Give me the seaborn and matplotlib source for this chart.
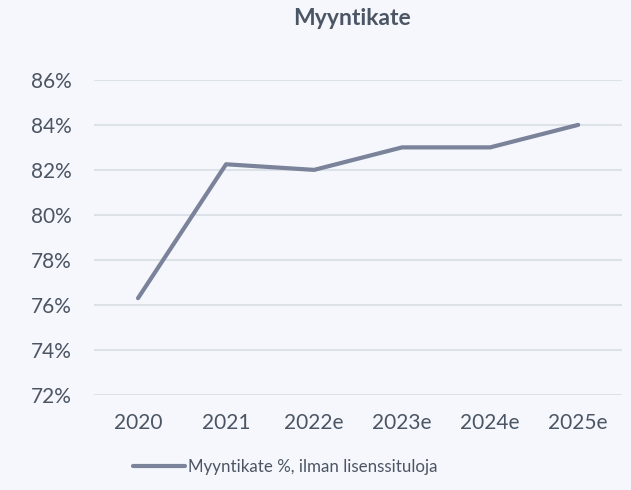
import matplotlib
matplotlib.use("Agg")
import matplotlib.pyplot as plt
import seaborn as sns
import pandas as pd
from matplotlib.ticker import FuncFormatter

# Data
years = ["2020", "2021", "2022e", "2023e", "2024e", "2025e"]
margin = [76.3, 82.25, 82.0, 83.0, 83.0, 84.0]
series_name = "Myyntikate %, ilman lisenssituloja"

df = pd.DataFrame({"year": years, "value": margin})

bg = "#f5f7fc"
text_color = "#4b5563"
line_color = "#7a8399"
grid_color = "#dde2e8"

sns.set_theme(style="white")
plt.rcParams["font.family"] = ["Lato", "DejaVu Sans"]

fig = plt.figure(figsize=(6.31, 4.90), dpi=100, facecolor=bg)
ax = fig.add_axes([0.149, 0.194, 0.837, 0.643])
ax.set_facecolor(bg)

sns.lineplot(data=df, x="year", y="value", ax=ax, color=line_color,
             linewidth=3, label=series_name, sort=False)

ax.set_ylim(72, 86)
ax.set_xlim(-0.5, 5.5)
ax.set_yticks(range(72, 87, 2))
ax.yaxis.set_major_formatter(FuncFormatter(lambda v, p: f"{v:.0f}%"))
ax.grid(axis="y", color=grid_color, linewidth=1.5)
ax.set_axisbelow(True)
for s in ax.spines.values():
    s.set_visible(False)
ax.tick_params(axis="both", length=0, labelsize=15, colors=text_color)
ax.tick_params(axis="y", pad=16)
ax.tick_params(axis="x", pad=13)
ax.set_xlabel("")
ax.set_ylabel("")

fig.text(0.558, 0.962, "Myyntikate", ha="center", va="center",
         fontsize=16.5, fontweight="bold", color=text_color)

leg = ax.legend(loc="center", frameon=False,
                fontsize=12.2, labelcolor=text_color, handlelength=3.1,
                handletextpad=0.2)
leg.set_bbox_to_anchor((0.452, 0.047), transform=fig.transFigure)

fig.savefig("out.png", dpi=100, facecolor=bg)
plt.close(fig)
